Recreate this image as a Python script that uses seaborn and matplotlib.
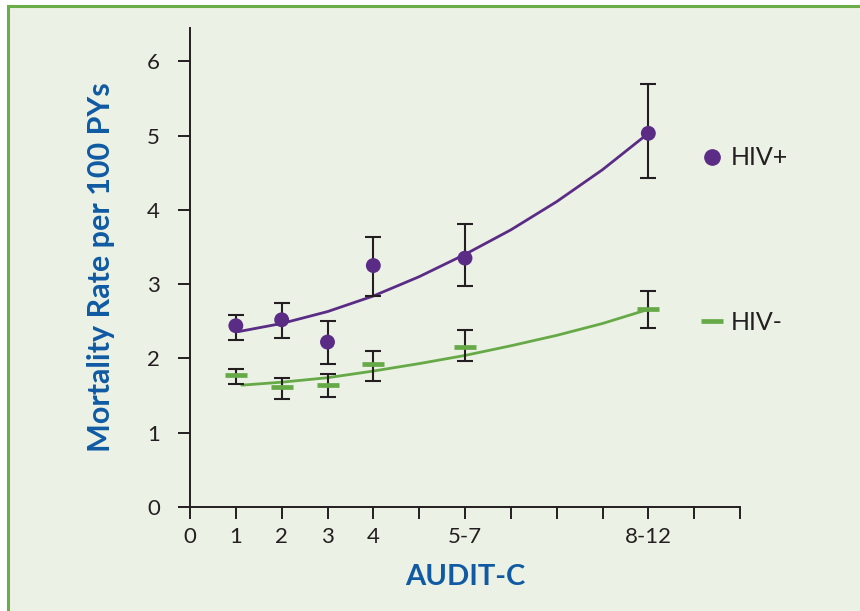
import numpy as np
import pandas as pd
import seaborn as sns
import matplotlib.pyplot as plt
from matplotlib.lines import Line2D
from matplotlib.patches import Rectangle

# AUDIT-C groups, placed on a 0-12 scale like the original figure
x_pos = [1, 2, 3, 4, 6, 10]
tick_pos = list(range(13))
tick_labels = ['0', '1', '2', '3', '4', '', '5-7', '', '', '', '8-12', '', '']

# mortality rate per 100 PYs with CI
hiv_pos = [2.44, 2.52, 2.22, 3.25, 3.35, 5.03]
hiv_pos_lo = [2.25, 2.28, 1.93, 2.84, 2.97, 4.43]
hiv_pos_hi = [2.58, 2.75, 2.50, 3.63, 3.81, 5.69]

hiv_neg = [1.77, 1.61, 1.64, 1.92, 2.15, 2.66]
hiv_neg_lo = [1.66, 1.45, 1.48, 1.70, 1.96, 2.41]
hiv_neg_hi = [1.86, 1.74, 1.79, 2.10, 2.38, 2.91]

# trend lines
trend_x_pos = [1.05, 2, 3, 4, 5, 6, 7, 8, 9, 10]
trend_pos = [2.36, 2.47, 2.63, 2.84, 3.10, 3.40, 3.73, 4.11, 4.54, 5.03]
trend_x_neg = [1.13, 2, 3, 4, 5, 6, 7, 8, 9, 10]
trend_neg = [1.64, 1.68, 1.74, 1.83, 1.93, 2.04, 2.17, 2.31, 2.47, 2.66]

purple = '#5B2C86'
green = '#66A947'
blue = '#0F5AA3'
dark = '#231F20'
bg = '#ECF1E6'

sns.set_style('white')
plt.rcParams['font.family'] = ['Lato', 'DejaVu Sans']

fig = plt.figure(figsize=(8.6, 6.11), dpi=100, facecolor='white')
fig.patches.append(Rectangle((7.8 / 860, -0.05), 1.2, 1 - 5.7 / 611 + 0.05,
                             transform=fig.transFigure, facecolor=bg,
                             edgecolor='#6AAD48', linewidth=2.2, zorder=-10))
ax = fig.add_axes([190 / 860, 104 / 611, 550 / 860, 479.2 / 611])
ax.set_facecolor('none')

df_pos = pd.DataFrame({'x': trend_x_pos, 'y': trend_pos})
df_neg = pd.DataFrame({'x': trend_x_neg, 'y': trend_neg})
sns.lineplot(data=df_pos, x='x', y='y', ax=ax, color=purple, linewidth=2.0, zorder=2)
sns.lineplot(data=df_neg, x='x', y='y', ax=ax, color=green, linewidth=2.0, zorder=2)

pos = np.array(hiv_pos)
neg = np.array(hiv_neg)
ax.errorbar(x_pos, pos, yerr=[pos - np.array(hiv_pos_lo), np.array(hiv_pos_hi) - pos],
            fmt='none', ecolor=dark, elinewidth=1.5, capsize=5.5, capthick=1.5, zorder=3)
ax.errorbar(x_pos, neg, yerr=[neg - np.array(hiv_neg_lo), np.array(hiv_neg_hi) - neg],
            fmt='none', ecolor=dark, elinewidth=1.5, capsize=5.5, capthick=1.5, zorder=3)
sns.scatterplot(x=x_pos, y=hiv_pos, ax=ax, color=purple, s=115, edgecolor='none', zorder=4)
ax.plot(x_pos, hiv_neg, linestyle='none', marker='_', markersize=16,
        markeredgewidth=3.4, color=green, zorder=4)

ax.set_xlim(0, 12)
ax.set_ylim(0, 6.45)
ax.set_xticks(tick_pos)
ax.set_xticklabels(tick_labels)
ax.set_yticks(range(7))
sns.despine(ax=ax)
for s in ['left', 'bottom']:
    ax.spines[s].set_color(dark)
    ax.spines[s].set_linewidth(1.4)
ax.tick_params(axis='both', direction='out', length=8.5, width=1.4, color=dark,
               labelsize=16, labelcolor=dark, bottom=True, left=True)
ax.tick_params(axis='y', pad=13)
ax.tick_params(axis='x', pad=6)

ax.set_xlabel('AUDIT-C', fontsize=21, fontweight='bold', color=blue)
ax.set_ylabel('Mortality Rate per 100 PYs', fontsize=22, fontweight='bold', color=blue)
ax.xaxis.set_label_coords(0.5, -0.118)
ax.yaxis.set_label_coords(-0.136, 0.5)

h_pos = Line2D([], [], linestyle='none', marker='o', markersize=11, color=purple)
h_neg = Line2D([], [], linestyle='none', marker='_', markersize=16, markeredgewidth=3.4, color=green)
leg1 = ax.legend([h_pos], ['HIV+'], loc='center left', bbox_to_anchor=(11.12, 4.70),
                 bbox_transform=ax.transData, frameon=False, fontsize=18, borderpad=0,
                 borderaxespad=0, handlelength=1.0, handletextpad=0.25, labelcolor=dark)
ax.add_artist(leg1)
ax.legend([h_neg], ['HIV-'], loc='center left', bbox_to_anchor=(11.12, 2.49),
          bbox_transform=ax.transData, frameon=False, fontsize=18, borderpad=0,
          borderaxespad=0, handlelength=1.0, handletextpad=0.25, labelcolor=dark)

fig.savefig('out.png', dpi=100, facecolor='white')
